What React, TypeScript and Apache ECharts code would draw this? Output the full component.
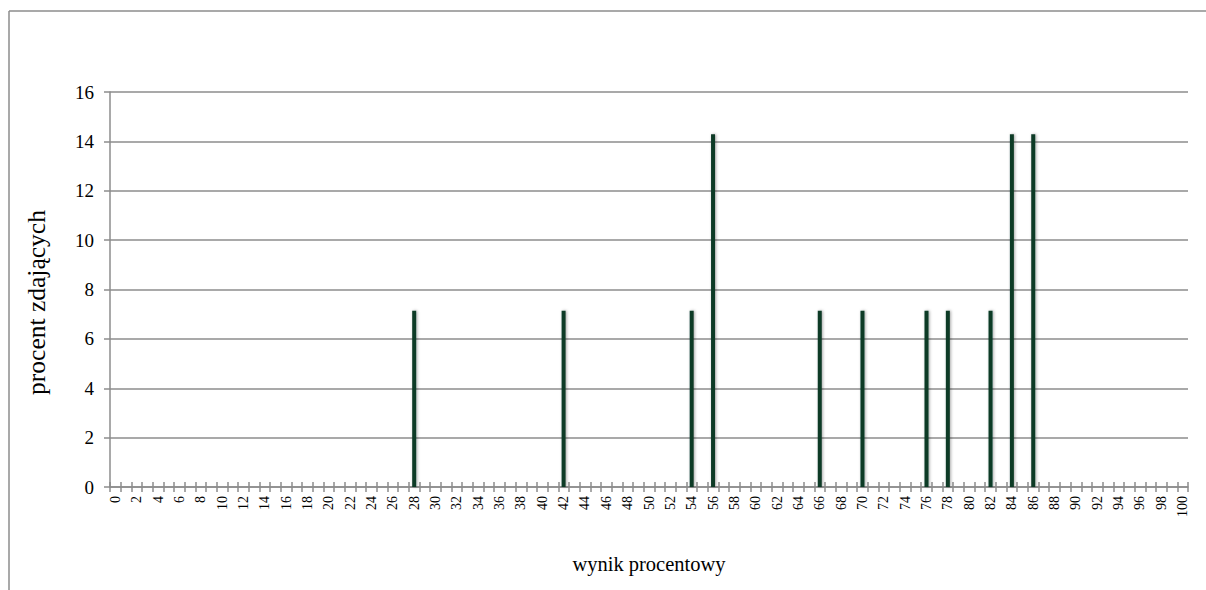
import React, { useEffect, useRef } from "react";
import * as echarts from "echarts";

const categories: string[] = Array.from({ length: 101 }, (_, i) => String(i));
const barScores = [28, 42, 54, 56, 66, 70, 76, 78, 82, 84, 86];
const barValues = [7.14, 7.14, 7.14, 14.29, 7.14, 7.14, 7.14, 7.14, 7.14, 14.29, 14.29];
const yTicks = { min: 0, max: 16, interval: 2 };
const xName = "wynik procentowy";
const yName = "procent zdających";

export default function App() {
  const ref = useRef<HTMLDivElement>(null);
  useEffect(() => {
    document.body.style.margin = "0";
    document.body.style.overflow = "hidden";
    if (!ref.current) return;
    const chart = echarts.init(ref.current, null, { renderer: "svg" });
    const values: number[] = categories.map(() => 0);
    barScores.forEach((s, i) => {
      values[s] = barValues[i];
    });
    const font = "Liberation Serif";
    const axisGray = "#8c8c8c";
    chart.setOption({
      animation: false,
      textStyle: { fontFamily: font },
      graphic: [
        {
          type: "line",
          shape: { x1: 9, y1: 11, x2: 1206, y2: 11 },
          style: { stroke: "#8c8c8c", lineWidth: 1.5 },
          silent: true,
        },
        {
          type: "line",
          shape: { x1: 9, y1: 11, x2: 9, y2: 590 },
          style: { stroke: "#8c8c8c", lineWidth: 1.5 },
          silent: true,
        },
      ],
      grid: { left: 110, right: 18, top: 92, bottom: 103 },
      xAxis: [
        {
          type: "category",
          data: categories,
          boundaryGap: true,
          name: xName,
          nameLocation: "middle",
          nameGap: 66,
          nameTextStyle: { fontFamily: font, fontSize: 20.5, color: "#000" },
          axisLine: { lineStyle: { color: axisGray, width: 1.5 } },
          axisTick: { show: true, interval: 0, length: 5, lineStyle: { color: axisGray, width: 1.5 } },
          axisLabel: {
            interval: 1,
            rotate: 90,
            fontFamily: font,
            fontSize: 14,
            color: "#000",
            margin: 9,
          },
          splitLine: { show: false },
        },
        {
          type: "category",
          data: categories,
          position: "bottom",
          boundaryGap: true,
          axisLine: { show: false },
          axisTick: { show: true, inside: true, interval: 0, length: 5, lineStyle: { color: axisGray, width: 1.5 } },
          axisLabel: { show: false },
          splitLine: { show: false },
        },
      ],
      yAxis: {
        type: "value",
        min: yTicks.min,
        max: yTicks.max,
        interval: yTicks.interval,
        name: yName,
        nameLocation: "middle",
        nameGap: 61,
        nameRotate: 90,
        nameTextStyle: { fontFamily: font, fontSize: 25.5, color: "#000", padding: [0, 26, 0, 0] },
        axisLine: { show: true, lineStyle: { color: axisGray, width: 1.5 } },
        axisTick: { show: true, length: 6, lineStyle: { color: axisGray, width: 1.5 } },
        axisLabel: { fontFamily: font, fontSize: 19, color: "#000", margin: 16 },
        splitLine: { show: true, lineStyle: { color: axisGray, width: 1.5 } },
      },
      series: [
        {
          type: "bar",
          data: values,
          barWidth: 4,
          itemStyle: {
            color: "#0c3b27",
            shadowColor: "rgba(0,0,0,0.35)",
            shadowBlur: 3,
            shadowOffsetX: 1,
            shadowOffsetY: 0,
          },
        },
      ],
    });
    return () => chart.dispose();
  }, []);
  return <div ref={ref} style={{ width: 1206, height: 590 }} />;
}
